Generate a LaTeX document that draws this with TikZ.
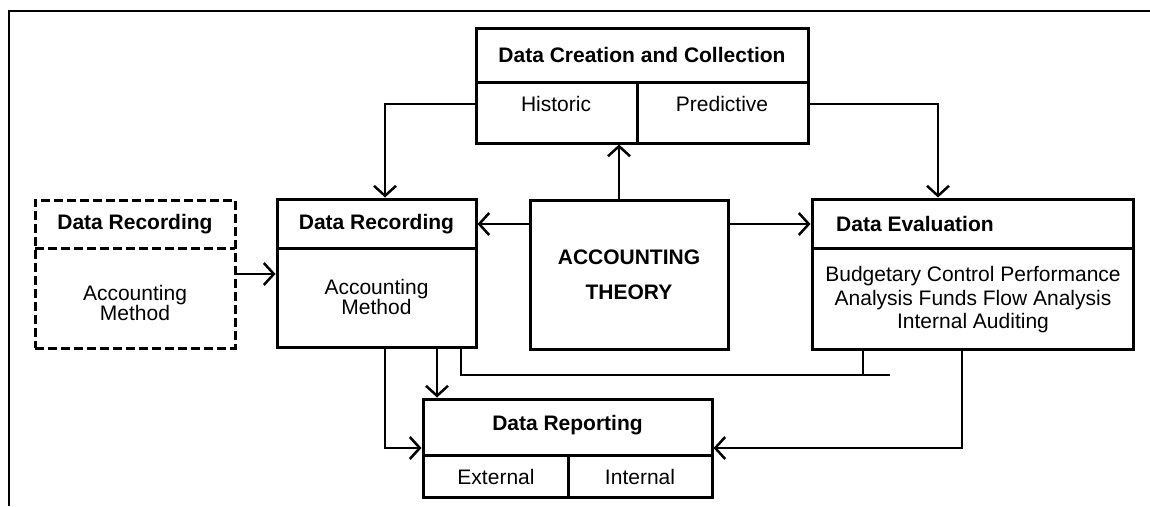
\documentclass[tikz,border=0pt]{standalone}
\usepackage{fontspec}
\setmainfont{Liberation Sans}
\usetikzlibrary{shapes,arrows,arrows.meta,positioning,calc}

\begin{document}
\begin{tikzpicture}[x=1pt,y=-1pt,
    box/.style={draw, line width=3pt, inner sep=0pt},
    dashbox/.style={box, dash pattern=on 9pt off 4pt},
    head/.style={font=\bfseries\fontsize{21}{25}\selectfont, inner sep=0pt},
    txt/.style={font=\fontsize{21}{20}\selectfont, align=center, inner sep=0pt},
    link/.style={line width=2.5pt},
    arr/.style={link, -{Straight Barb[length=10pt,width=22pt]}}]
  \useasboundingbox (0,0) rectangle (1150,506);

  % frame
  \draw[line width=2pt] (9,506) -- (9,11) -- (1150,11);

  % data creation
  \node[box, minimum width=332pt, minimum height=115pt] (create) at (642,85.5) {};
  \draw[box] (476,82) -- (808,82) (637,82) -- (637,143);
  \node[head] (createhead) at (642,55) {Data Creation and Collection};
  \node[txt] (hist) at (556,104) {Historic};
  \node[txt] (pred) at (722,104) {Predictive};

  % theory
  \node[box, align=center, font=\bfseries\fontsize{21}{35}\selectfont,
        minimum width=198pt, minimum height=149pt] (theory) at (629,274.5) {ACCOUNTING\\THEORY};

  % recording (dashed)
  \node[dashbox, minimum width=200pt, minimum height=148pt] (dashrec) at (135,274) {};
  \draw[dashbox] (35,248) -- (235,248);
  \node[head] (dashhead) at (135,224) {Data Recording};
  \node[txt] (dashtxt) at (135,303) {Accounting\\Method};

  % recording
  \node[box, minimum width=199pt, minimum height=148pt] (record) at (376.5,273) {};
  \draw[box] (277,248) -- (476,248);
  \node[head] (rechead) at (376.5,224) {Data Recording};
  \node[txt] (rectxt) at (376.5,297) {Accounting\\Method};

  % evaluation
  \node[box, minimum width=321pt, minimum height=150pt] (evaluate) at (972.5,274) {};
  \draw[box] (812,248) -- (1133,248);
  \node[head, anchor=west] (evalhead) at (836,224) {Data Evaluation};
  \node[txt, font=\fontsize{21}{23.5}\selectfont] (evaltxt) at (973,300)
    {Budgetary Control Performance\\Analysis Funds Flow Analysis\\Internal Auditing};

  % reporting
  \node[box, minimum width=289pt, minimum height=98pt] (report) at (567.5,448) {};
  \draw[box] (423,455) -- (712,455) (568,455) -- (568,497);
  \node[head] (rephead) at (567.5,425) {Data Reporting};
  \node[txt] (ext) at (496,477) {External};
  \node[txt] (int) at (640,477) {Internal};

  % connectors
  \coordinate (up) at ([xshift=-10pt]theory.north);
  \draw[arr] (create.west |- hist) -| ([xshift=8.5pt]record.north);
  \draw[arr] (create.east |- pred) -| ([xshift=-34.5pt]evaluate.north);
  \draw[arr] (up) -- (up |- create.south);
  \draw[arr] (theory.west |- rechead) -- (record.east |- rechead);
  \draw[arr] (theory.east |- evalhead) -- (evaluate.west |- evalhead);
  \draw[arr] (dashrec.east) -- (dashrec.east -| record.west);

  \coordinate (recA) at ([xshift=8.5pt]record.south);
  \coordinate (recB) at ([xshift=60.5pt]record.south);
  \coordinate (recC) at ([xshift=84.5pt]record.south);
  \coordinate (evalA) at ([xshift=-109.5pt]evaluate.south);
  \coordinate (evalB) at ([xshift=-10.5pt]evaluate.south);
  \coordinate (bus) at (890,375);
  \draw[arr] (recA) |- (report.west);
  \draw[arr] (recB) -- (recB |- report.north);
  \draw[link] (recC) |- (bus);
  \draw[link] (evalA) -- (evalA |- bus);
  \draw[arr] (evalB) |- (report.east);
\end{tikzpicture}
\end{document}
